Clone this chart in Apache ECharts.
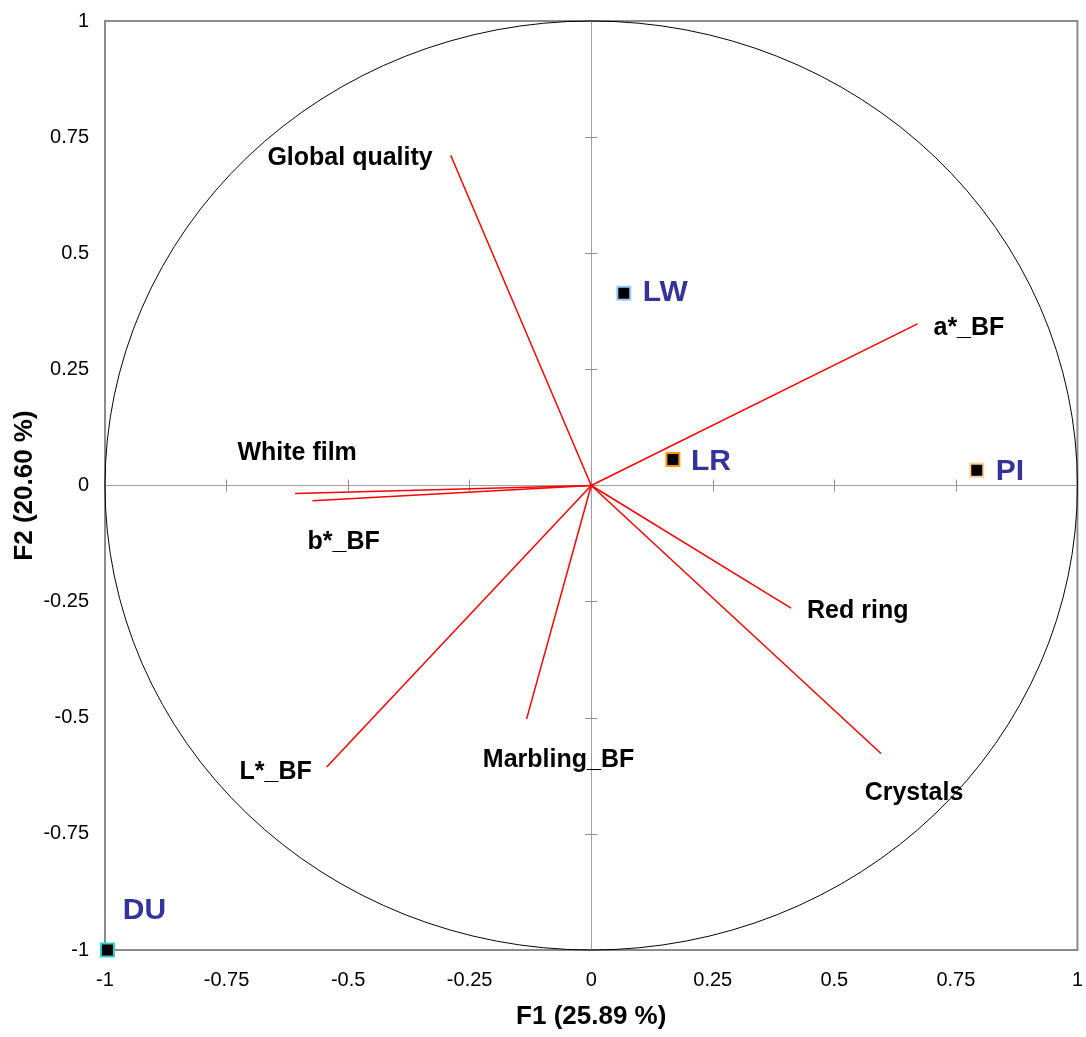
<!DOCTYPE html>
<html>
<head>
<meta charset="utf-8">
<script src="https://cdn.jsdelivr.net/npm/echarts@6/dist/echarts.min.js"></script>
<style>
    html, body { margin: 0; padding: 0; background: #fff; }
    #pca { width: 1086px; height: 1037px; }
</style>
</head>
<body>
<div id="pca"></div>
<script type="text/javascript">
    // variables (correlation circle)
    var varNames = ['Global quality', 'a*_BF', 'White film', 'b*_BF', 'Red ring', 'Crystals', 'Marbling_BF', 'L*_BF'];
    var varF1 = [-0.289, 0.671, -0.609, -0.573, 0.411, 0.596, -0.133, -0.544];
    var varF2 = [0.711, 0.348, -0.017, -0.033, -0.264, -0.577, -0.503, -0.606];

    // observations
    var obsNames = ['LW', 'LR', 'PI', 'DU'];
    var obsF1 = [0.067, 0.168, 0.793, -0.995];
    var obsF2 = [0.414, 0.056, 0.033, -1.0];

    // axis ticks
    var tickValues = [-1, -0.75, -0.5, -0.25, 0, 0.25, 0.5, 0.75, 1];

    // label placement (align, dx, dy) - styling only
    var varLabelPos = [['right', -18, 3], ['left', 16, 4], ['center', 2, -40], ['center', 31, 41],
        ['left', 16, 3], ['center', 33, 40], ['center', 32, 41], ['right', -15, 5]];
    var obsLabelPos = [['left', 19, 0], ['left', 18, 2], ['left', 19, 2], ['center', 37, -39]];
    var obsBorder = ['#99ccff', '#ff9900', '#ffcc99', '#33cccc'];

    var FONT = 'Liberation Sans, Arial, sans-serif';
    var tMin = tickValues[0], tMax = tickValues[tickValues.length - 1], tStep = tickValues[1] - tickValues[0];

    var chart = echarts.init(document.getElementById('pca'));

    var vecLines = [], vecEnds = [];
    for (var i = 0; i < varNames.length; i++) {
        vecLines.push({ coords: [[0, 0], [varF1[i], varF2[i]]] });
        vecEnds.push({
            name: varNames[i],
            value: [varF1[i], varF2[i]],
            label: { align: varLabelPos[i][0], offset: [varLabelPos[i][1], varLabelPos[i][2]] }
        });
    }
    var obsData = [];
    for (var j = 0; j < obsNames.length; j++) {
        obsData.push({
            name: obsNames[j],
            value: [obsF1[j], obsF2[j]],
            itemStyle: { borderColor: obsBorder[j] },
            label: { align: obsLabelPos[j][0], offset: [obsLabelPos[j][1], obsLabelPos[j][2]] }
        });
    }

    var zeroLine = { onZero: true, onZeroAxisIndex: 0, lineStyle: { color: '#a0a0a0', width: 1 } };
    var zeroTick = { show: true, length: 6, lineStyle: { color: '#909090', width: 1 } };

    function valAxis(extra) {
        var base = {
            type: 'value', min: tMin, max: tMax, interval: tStep,
            splitLine: { show: false }, axisLabel: { show: false }
        };
        for (var k in extra) base[k] = extra[k];
        return base;
    }

    chart.setOption({
        animation: false,
        textStyle: { fontFamily: FONT },
        grid: {
            left: 105, top: 21, width: 973, height: 929,
            show: true, borderColor: '#8c8c8c', borderWidth: 2, backgroundColor: '#fff'
        },
        xAxis: [
            valAxis({
                position: 'bottom',
                axisLine: { show: false, onZero: false }, axisTick: { show: false },
                axisLabel: { show: true, color: '#000', fontSize: 20, margin: 20, fontFamily: FONT },
                name: 'F1 (25.89 %)', nameLocation: 'middle', nameGap: 54, nameMoveOverlap: false,
                nameTextStyle: { color: '#000', fontSize: 26, fontWeight: 'bold', fontFamily: FONT }
            }),
            valAxis({ position: 'bottom', axisLine: zeroLine, axisTick: zeroTick }),
            valAxis({ position: 'top', axisLine: zeroLine, axisTick: zeroTick })
        ],
        yAxis: [
            valAxis({
                position: 'left',
                axisLine: { show: false, onZero: false }, axisTick: { show: false },
                axisLabel: { show: true, color: '#000', fontSize: 20, margin: 16, fontFamily: FONT },
                name: 'F2 (20.60 %)', nameLocation: 'middle', nameGap: 67, nameMoveOverlap: false,
                nameTextStyle: { color: '#000', fontSize: 26, fontWeight: 'bold', fontFamily: FONT }
            }),
            valAxis({ position: 'left', axisLine: zeroLine, axisTick: zeroTick }),
            valAxis({ position: 'right', axisLine: zeroLine, axisTick: zeroTick })
        ],
        series: [
            {
                // correlation circle, radius 1
                type: 'custom',
                xAxisIndex: 0, yAxisIndex: 0,
                silent: true, z: 1,
                data: [[0, 0]],
                renderItem: function (params, api) {
                    var c = api.coord([0, 0]);
                    var s = api.size([1, 1]);
                    return {
                        type: 'circle',
                        x: c[0], y: c[1], scaleY: s[1] / s[0],
                        shape: { cx: 0, cy: 0, r: s[0] },
                        style: { fill: 'none', stroke: '#000', lineWidth: 1, strokeNoScale: true }
                    };
                }
            },
            {
                type: 'lines',
                coordinateSystem: 'cartesian2d',
                xAxisIndex: 0, yAxisIndex: 0,
                z: 2,
                lineStyle: { color: '#ff0000', width: 1.5, opacity: 1 },
                data: vecLines
            },
            {
                type: 'scatter',
                xAxisIndex: 0, yAxisIndex: 0,
                symbolSize: 0, z: 3,
                itemStyle: { opacity: 1 },
                label: {
                    show: true, position: 'inside', verticalAlign: 'middle',
                    formatter: '{b}', color: '#000', fontSize: 25, fontWeight: 'bold', fontFamily: FONT
                },
                data: vecEnds
            },
            {
                type: 'scatter',
                xAxisIndex: 0, yAxisIndex: 0,
                symbol: 'rect', symbolSize: 13, z: 4,
                itemStyle: { color: '#000', borderWidth: 2, opacity: 1 },
                label: {
                    show: true, position: 'inside', verticalAlign: 'middle',
                    formatter: '{b}', color: '#333399', fontSize: 30, fontWeight: 'bold', fontFamily: FONT
                },
                data: obsData
            }
        ]
    });
</script>
</body>
</html>
